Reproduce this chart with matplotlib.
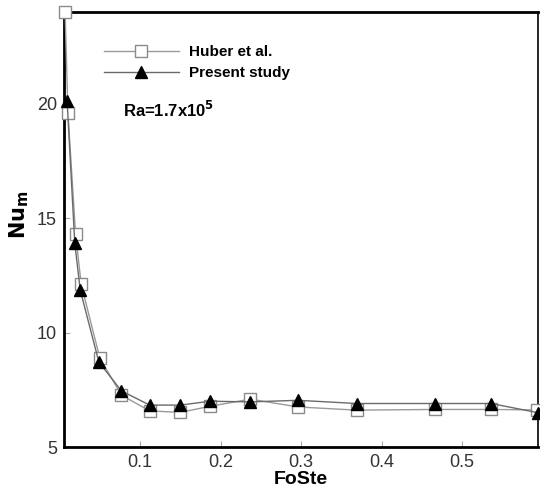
import matplotlib
matplotlib.use("Agg")
import matplotlib.pyplot as plt

# -----------------------------------
# DATA
# -----------------------------------

huber_x = [0.007, 0.0105, 0.020, 0.027, 0.050, 0.077, 0.112, 0.150,
           0.187, 0.237, 0.296, 0.369, 0.466, 0.536, 0.593]
huber_nu = [24.0, 19.6, 14.3, 12.1, 8.9, 7.26, 6.58, 6.51,
            6.78, 7.09, 6.75, 6.61, 6.64, 6.64, 6.62]

present_x = [0.0095, 0.019, 0.0258, 0.049, 0.077, 0.112, 0.150,
             0.187, 0.237, 0.296, 0.369, 0.466, 0.536, 0.594]
present_nu = [20.1, 13.9, 11.85, 8.7, 7.45, 6.83, 6.83,
              7.0, 6.97, 7.04, 6.9, 6.9, 6.9, 6.5]

x_ticks = [0.1, 0.2, 0.3, 0.4, 0.5]
y_ticks = [5, 10, 15, 20]

plt.rcParams["font.family"] = ["Liberation Sans", "DejaVu Sans"]

# -----------------------------------
# FIGURE
# -----------------------------------

fig = plt.figure(figsize=(5.4, 4.91), dpi=100)
ax = fig.add_axes([0.1185, 0.0896, 0.878, 0.886])

ax.plot(
    huber_x, huber_nu,
    color="#9a9a9a", linewidth=1.0,
    marker="s", markersize=9, markerfacecolor="white",
    markeredgecolor="#8a8a8a", markeredgewidth=1.0,
    label="Huber et al.", clip_on=False, zorder=3
)

ax.plot(
    present_x, present_nu,
    color="#6a6a6a", linewidth=1.0,
    marker="^", markersize=9, markerfacecolor="black",
    markeredgecolor="black",
    label="Present study", clip_on=False, zorder=4
)

ax.set_xlim(0.0056, 0.5944)
ax.set_ylim(5, 24)

ax.set_xticks(x_ticks)
ax.set_xticklabels(["0.1", "0.2", "0.3", "0.4", "0.5"])
ax.set_yticks(y_ticks)

ax.tick_params(direction="in", length=4, width=0.8, color="#aaaaaa",
               labelsize=13, labelcolor="#333333", pad=5)

for side in ["left", "bottom", "top"]:
    ax.spines[side].set_linewidth(2.0)
ax.spines["right"].set_linewidth(1.2)

ax.set_xlabel("FoSte", fontsize=14, fontweight="bold", labelpad=0)
ax.set_ylabel(r"$\mathbf{Nu_m}$", fontsize=15)
ax.yaxis.set_label_coords(-0.07, 0.535)

ax.legend(
    loc="upper left", bbox_to_anchor=(0.055, 0.955),
    frameon=False, handlelength=4.9, handletextpad=0.65,
    labelspacing=0.45, prop={"weight": "bold", "size": 11}
)

ax.text(0.125, 0.775, r"Ra=1.7x10$^{\mathbf{5}}$", transform=ax.transAxes,
        fontsize=12, fontweight="bold", ha="left", va="center")

plt.savefig("out.png", dpi=100)
